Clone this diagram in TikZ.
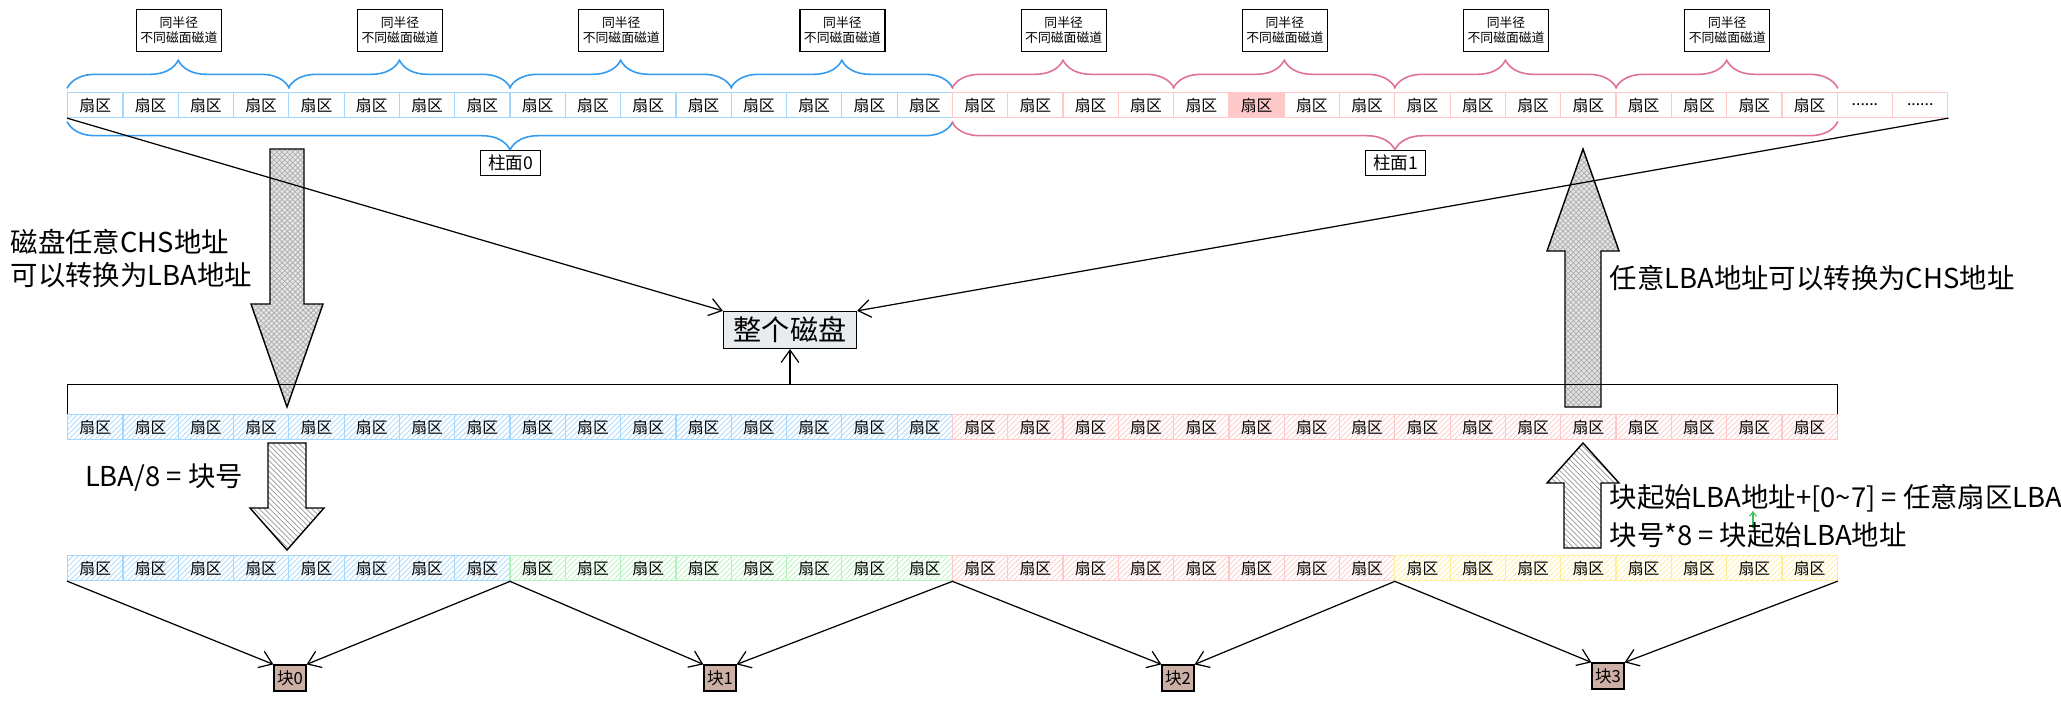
\documentclass[tikz,border=0pt]{standalone}
\usepackage{fontspec}
\setmainfont{Noto Sans CJK SC}
\usetikzlibrary{positioning, calc, patterns, arrows.meta, decorations.pathreplacing}

\definecolor{secblue}{HTML}{A5D8FF}
\definecolor{secpink}{HTML}{FFC9C9}
\definecolor{secgreen}{HTML}{B2F2BB}
\definecolor{secyellow}{HTML}{FFEC99}
\definecolor{braceblue}{HTML}{339AF0}
\definecolor{bracepink}{HTML}{E0709A}
\definecolor{blkfill}{HTML}{CCB0A6}
\definecolor{diskfill}{HTML}{E9ECEF}
\definecolor{arrgreen}{HTML}{40C057}

\begin{document}
\begin{tikzpicture}[x=0.02cm, y=-0.02cm, line width=0.7pt,
	>={Straight Barb[length=7pt,width=10pt]},
	sec/.style={draw, minimum width=1.106cm, minimum height=0.5cm, inner sep=0pt, font=\fontsize{9}{10}\selectfont},
	trackbox/.style={draw, fill=white, minimum width=1.7cm, minimum height=0.84cm, inner sep=1pt, align=center, font=\fontsize{7.3}{8.6}\selectfont},
	cyllabel/.style={draw, minimum width=1.2cm, minimum height=0.5cm, inner sep=1pt, font=\fontsize{10}{11}\selectfont},
	brc/.style={decorate, decoration={brace, amplitude=16pt}, line width=0.9pt},
	note/.style={inner sep=0pt, align=left, font=\fontsize{15.6}{18.5}\selectfont},
	blk/.style={draw, fill=blkfill, minimum width=0.64cm, minimum height=0.52cm, inner sep=1pt, font=\fontsize{9.5}{10}\selectfont},
	fatbig/.style={draw, line width=0.8pt, preaction={fill=gray!20}, pattern=crosshatch, pattern color=gray!65},
	fatsmall/.style={draw, line width=0.8pt, preaction={fill=white}, pattern=north west lines, pattern color=gray!80}]
	\useasboundingbox (0,0) rectangle (2061,703);

	% fat arrows
	\draw[fatbig] (270,149) -- (304,149) -- (304,304) -- (323,304) -- (287,407) -- (251,304) -- (270,304) -- cycle;
	\draw[fatbig] (1565,407) -- (1601,407) -- (1601,251) -- (1619,251) -- (1583,149) -- (1547,251) -- (1565,251) -- cycle;
	\draw[fatsmall] (268,443) -- (306,443) -- (306,508) -- (324,508) -- (287,550) -- (250,508) -- (268,508) -- cycle;
	\draw[fatsmall] (1564,548) -- (1601,548) -- (1601,483) -- (1619,483) -- (1583,443) -- (1547,483) -- (1564,483) -- cycle;

	% top row: cylinder 0 and cylinder 1
	\foreach \i in {1,...,16}
		\node[sec, draw=secblue, fill=white] (t\i) at ({40+\i*55.3}, 105) {扇区};
	\foreach \i in {17,...,32} {
		\ifnum\i=22 \def\f{secpink}\else\def\f{white}\fi
		\node[sec, draw=secpink, fill=\f] (t\i) at ({40+\i*55.3}, 105) {扇区};
		}
	\node[sec, draw=secpink] (td1) at ({40+33*55.3}, 105) {......\hspace{12pt}};
	\node[sec, draw=secpink] (td2) at ({40+34*55.3}, 105) {......\hspace{12pt}};

	% braces over tracks
	\foreach \a/\m/\b/\c in {1/2/4/braceblue, 5/6/8/braceblue, 9/10/12/braceblue, 13/14/16/braceblue,
							 17/18/20/bracepink, 21/22/24/bracepink, 25/26/28/bracepink, 29/30/32/bracepink} {
		\draw[brc, draw=\c] ([yshift=2pt]t\a.north west) -- ([yshift=2pt]t\b.north east);
		\node[trackbox, above=0.8cm of t\m.north east] (trk\a) {同半径\\不同磁面磁道};
		}

	% braces under cylinders
	\draw[brc, draw=braceblue] ([yshift=-2pt]t16.south east) -- ([yshift=-2pt]t1.south west);
	\draw[brc, draw=bracepink] ([yshift=-2pt]t32.south east) -- ([yshift=-2pt]t17.south west);
	\node[cyllabel, below=0.64cm of t8.south east] (cyl0) {柱面0};
	\node[cyllabel, below=0.64cm of t24.south east] (cyl1) {柱面1};

	% whole disk
	\node[draw, fill=diskfill, minimum width=2.66cm, minimum height=0.74cm, inner sep=1pt, font=\fontsize{16}{18}\selectfont] (disk) at (790, 330) {整个磁盘};
	\draw[->] (t1.south west) -- (disk.north west);
	\draw[->] (td2.south east) -- (disk.north east);

	% middle row, LBA order
	\foreach \i in {1,...,16}
		\node[sec, draw=secblue, pattern=north east lines, pattern color=secblue] (m\i) at ({40+\i*55.3}, 427) {扇区};
	\foreach \i in {17,...,32}
		\node[sec, draw=secpink, pattern=north east lines, pattern color=secpink] (m\i) at ({40+\i*55.3}, 427) {扇区};
	\draw[line width=0.6pt] (m1.north west) -- ++(0,-29) coordinate (brk) -| (m32.north east);
	\draw[->] (disk.south |- brk) -- (disk.south);

	% bottom row, blocks of 8
	\foreach \c [count=\g from 0] in {secblue, secgreen, secpink, secyellow}
		\foreach \j in {1,...,8} {
			\pgfmathtruncatemacro\i{8*\g+\j}
			\node[sec, draw=\c, pattern=north east lines, pattern color=\c] (b\i) at ({40+\i*55.3}, 568) {扇区};
			}

	\node[blk] (blk0) at (290, 678) {块0};
	\node[blk] (blk1) at (720, 678) {块1};
	\node[blk] (blk2) at (1178, 678) {块2};
	\node[blk] (blk3) at (1608, 676) {块3};
	\foreach \k/\a/\b in {0/1/8, 1/9/16, 2/17/24, 3/25/32} {
		\draw[->] (b\a.south west) -- (blk\k.north west);
		\draw[->] (b\b.south east) -- (blk\k.north east);
		}

	% texts
	\node[note, anchor=north west] (chs2lba) at (10, 229) {磁盘任意CHS地址\\ 可以转换为LBA地址};
	\node[note, anchor=west] (lba2chs) at (1609, 278) {任意LBA地址可以转换为CHS地址};
	\node[note] (div8) at (164, 478) {LBA/8 = 块号};
	\coordinate (g0) at (1753, 528);
	\coordinate (g1) at (1753, 511);
	\draw[->, draw=arrgreen, line width=0.6pt, >={Straight Barb[length=2.5pt,width=4pt]}] (g0) -- (g1);
	\node[note, anchor=west] (anyblk) at (1609, 498) {块起始LBA地址+[0\textasciitilde7] = 任意扇区LBA地址};
	\node[note, anchor=west] (mul8) at (1609, 535) {块号*8 = 块起始LBA地址};
\end{tikzpicture}
\end{document}
